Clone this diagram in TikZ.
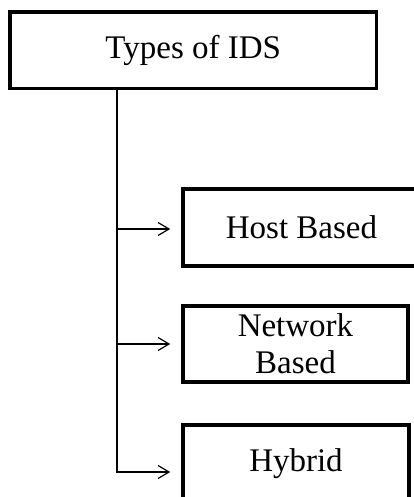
\documentclass[tikz,border=0pt]{standalone}
\usepackage{fontspec}
\setmainfont{Liberation Serif}
\usetikzlibrary{arrows.meta}
\begin{document}
\begin{tikzpicture}[x=1pt,y=-1pt,
  box/.style={draw=black, line width=3.6pt, fill=white, inner sep=0pt,
    align=center, font=\fontsize{33}{37}\selectfont},
  link/.style={draw=black, line width=1.2pt},
  branch/.style={link, shorten >=11pt,
    -{Straight Barb[length=11pt,width=13pt,line width=1.2pt]}}]
\useasboundingbox (0,0) rectangle (414,497);
\clip (0,0) rectangle (414,497);

% root and the three kinds
\node[box, minimum width=366.5pt, minimum height=76.5pt] (ids) at (193.25,50.25) {Types of IDS};
\node[box, minimum width=237pt, minimum height=77pt] (host) at (301.5,227.5) {Host Based};
\node[box, minimum width=225pt, minimum height=76pt] (net) at (295.5,344) {Network\\Based};
\node[box, minimum width=226pt, minimum height=77pt] (hyb) at (296,463.5) {Hybrid};

% vertical trunk with its three branches
\coordinate (tk) at (117,0);
\draw[branch] (ids.south -| tk) |- ([yshift=-8.5pt]hyb.west);
\draw[branch] ([yshift=-1.5pt]tk |- host.west) -- ([yshift=-1.5pt]host.west);
\draw[branch] (tk |- net.west) -- (net.west);
\end{tikzpicture}
\end{document}
